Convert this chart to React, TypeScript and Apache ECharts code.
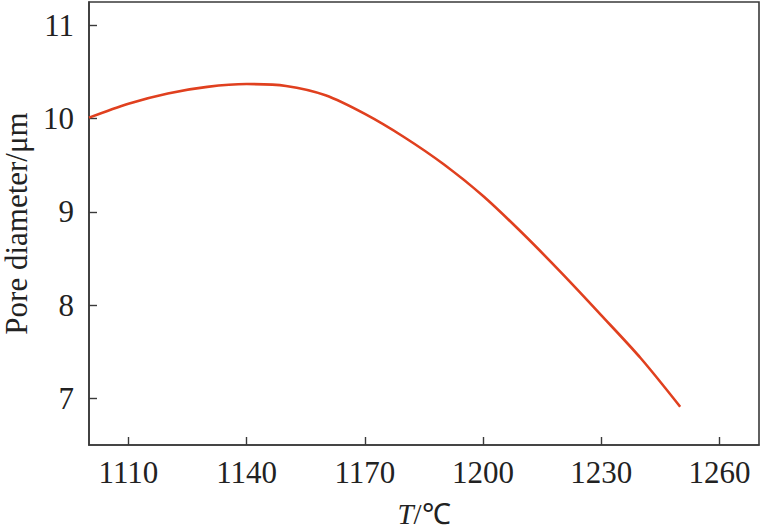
import React, { useEffect, useRef } from "react";
import * as echarts from "echarts";

const temperatures = [1100, 1110, 1120, 1130, 1140, 1150, 1160, 1170, 1180, 1190, 1200, 1210, 1220, 1230, 1240, 1250];
const poreDiameters = [10.01, 10.16, 10.27, 10.34, 10.37, 10.35, 10.25, 10.05, 9.8, 9.51, 9.17, 8.77, 8.34, 7.89, 7.43, 6.91];
const xTicks = [1110, 1140, 1170, 1200, 1230, 1260];
const yTicks = [7, 8, 9, 10, 11];

const FONT = "Times New Roman, Liberation Serif, serif";

export default function App() {
  const ref = useRef<HTMLDivElement>(null);
  useEffect(() => {
    if (!ref.current) return;
    const chart = echarts.init(ref.current, undefined, { renderer: "svg" });
    const axisColor = "#3a3a3a";
    chart.setOption({
      animation: false,
      backgroundColor: "#ffffff",
      grid: {
        left: 89,
        right: 3,
        top: 2,
        bottom: 85,
        containLabel: false,
        outerBoundsMode: "none",
        show: true,
        borderColor: axisColor,
        borderWidth: 1.6,
      },
      xAxis: {
        type: "value",
        min: 1100,
        max: 1270,
        name: "{i|T}{n|/℃}",
        nameLocation: "middle",
        nameGap: 54,
        nameTextStyle: {
          rich: {
            i: { fontFamily: FONT, fontSize: 29, fontStyle: "italic", color: "#222" },
            n: { fontFamily: FONT, fontSize: 29, color: "#222" },
          },
        },
        axisLine: { show: true, lineStyle: { color: axisColor, width: 1.6 } },
        axisTick: { show: true, inside: true, length: 8, customValues: xTicks, lineStyle: { color: axisColor, width: 1.4 } },
        axisLabel: {
          customValues: xTicks,
          formatter: (v: number) => String(v),
          fontFamily: FONT,
          fontSize: 31,
          color: "#222",
          margin: 12,
        },
        splitLine: { show: false },
      },
      yAxis: {
        type: "value",
        min: 6.5,
        max: 11.25,
        name: "Pore diameter/μm",
        nameLocation: "middle",
        nameGap: 60,
        nameTextStyle: { fontFamily: FONT, fontSize: 31, lineHeight: 26, color: "#222" },
        axisLine: { show: true, lineStyle: { color: axisColor, width: 1.6 } },
        axisTick: { show: true, inside: true, length: 8, customValues: yTicks, lineStyle: { color: axisColor, width: 1.4 } },
        axisLabel: {
          customValues: yTicks,
          formatter: (v: number) => String(v),
          fontFamily: FONT,
          fontSize: 31,
          color: "#222",
          margin: 15,
        },
        splitLine: { show: false },
      },
      series: [
        {
          type: "line",
          data: temperatures.map((t, i) => [t, poreDiameters[i]]),
          smooth: 0.3,
          symbol: "none",
          lineStyle: { color: "#e0401f", width: 2.6 },
        },
      ],
    });
    return () => chart.dispose();
  }, []);
  return (
    <div
      ref={ref}
      style={{ position: "fixed", left: 0, top: 0, width: 762, height: 530, background: "#fff" }}
    />
  );
}
